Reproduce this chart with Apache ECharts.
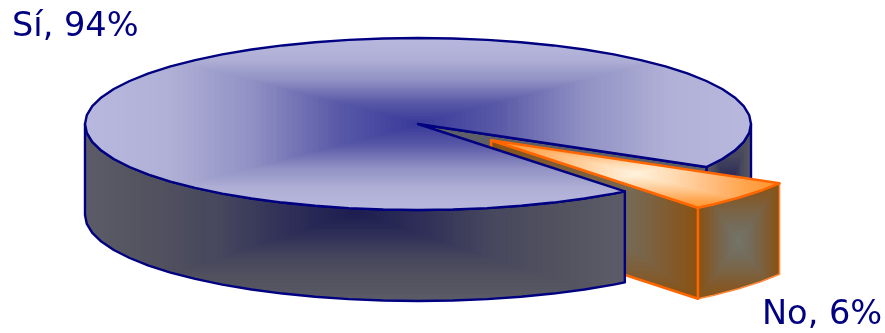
<!DOCTYPE html>
<html>
<head>
<meta charset="utf-8">
<style>html,body{margin:0;padding:0;background:#fff}#chart{width:885px;height:333px}</style>
<script src="https://cdn.jsdelivr.net/npm/echarts@6/dist/echarts.min.js"></script>
</head>
<body>
<div id="chart"></div>
<script>
// Survey answers, in percent
const categories = ['Sí', 'No'];
const shares = [94, 6];

// Disc projection
const CX = 418, CY = 124, RX = 333, RY = 86, DEPTH = 91;
const WEDGE_START = 30;            // where the "No" slice begins, degrees clockwise from east
const EXPLODE = 0.29;              // pull-out of the "No" slice, as a fraction of the radius
const BANDS = 64;
const FACET = 6;                   // rim is faceted every few degrees

const NAVY = '#000080', ORANGE = '#ff6600';
const RAMPS = {
  top:   ['#38389a', '#5a5aa8', '#9090c4', '#b0b0d6', '#b8b8de'],
  wall:  ['#1d1d50', '#2f2f58', '#46465e', '#52525f', '#5c5c68'],
  sliceTop:  ['#fff2de', '#ffdcb4', '#ffc084', '#ffa650', '#ff9228'],
  sliceWall: ['#747468', '#756c5c', '#7a6446', '#825a2c', '#8a5210']
};
const LABEL_POS = [[12, 10], [762, 298]];

const rad = d => d * Math.PI / 180;
const rim = (deg, ox, oy, drop) => [
  CX + ox + RX * Math.cos(rad(deg)),
  CY + oy + RY * Math.sin(rad(deg)) + drop
];
function arc(a0, a1, ox, oy, drop) {
  const angles = [a0];
  for (let a = Math.ceil(a0 / FACET + 1e-6) * FACET; a < a1; a += FACET) angles.push(a);
  angles.push(a1);
  return angles.map(a => rim(a, ox, oy, drop));
}

// A face filled with a rectangular-path gradient: nested bands shrinking towards
// the centre of its bounding box, clipped to the outline.
function face(points, ramp, layer, stroke, width) {
  const xs = points.map(p => p[0]), ys = points.map(p => p[1]);
  const x0 = Math.min(...xs), x1 = Math.max(...xs), y0 = Math.min(...ys), y1 = Math.max(...ys);
  const mx = (x0 + x1) / 2, my = (y0 + y1) / 2, hx = (x1 - x0) / 2, hy = (y1 - y0) / 2;
  const bands = [];
  for (let i = BANDS; i >= 1; i--) {
    const t = i / BANDS;
    bands.push({
      type: 'rect',
      z2: layer * 100 + (BANDS - i),
      shape: { x: mx - hx * t - 1, y: my - hy * t - 1, width: 2 * hx * t + 2, height: 2 * hy * t + 2 },
      style: { fill: echarts.color.lerp(t, ramp) }
    });
  }
  return [
    { type: 'group', clipPath: { type: 'polygon', shape: { points } }, children: bands },
    {
      type: 'polygon',
      z2: layer * 100 + 99,
      shape: { points },
      style: { fill: 'transparent', stroke, lineWidth: width, lineJoin: 'round' }
    }
  ];
}

function wallBetween(a0, a1, ox, oy, ramp, layer, stroke, width) {
  const upper = arc(a0, a1, ox, oy, 0), lower = arc(a0, a1, ox, oy, DEPTH).reverse();
  return face(upper.concat(lower), ramp, layer, stroke, width);
}

// Angular extent of each slice, running clockwise from the "No" wedge
const total = shares.reduce((a, b) => a + b, 0);
const sweepOf = v => v / total * 360;
const noStart = WEDGE_START, noEnd = noStart + sweepOf(shares[1]);
const siStart = noEnd, siEnd = siStart + sweepOf(shares[0]);

function drawYes() {
  const out = [];
  const endEdge = rim(siEnd, 0, 0, 0);
  // outer wall to the right of the gap, then the cut face seen through it
  out.push(...wallBetween(360, siEnd, 0, 0, RAMPS.wall, 1, NAVY, 2.4));
  out.push({
    type: 'polygon', z2: 200,
    shape: { points: [[CX, CY], endEdge, [endEdge[0], endEdge[1] + DEPTH], [CX, CY + DEPTH]] },
    style: { fill: '#5f5f68', stroke: NAVY, lineWidth: 2.4 }
  });
  // front wall and top surface sit over the pulled-out slice
  out.push(...wallBetween(siStart, 180, 0, 0, RAMPS.wall, 6, NAVY, 2.4));
  out.push(...face([[CX, CY]].concat(arc(siStart, siEnd, 0, 0, 0)), RAMPS.top, 7, NAVY, 2.4));
  return out;
}

function drawNo() {
  const out = [];
  const mid = (noStart + noEnd) / 2;
  const ox = RX * EXPLODE * Math.cos(rad(mid));
  const oy = RY * EXPLODE * Math.sin(rad(mid));
  const apex = [CX + ox, CY + oy];
  const lowerEdge = rim(noEnd, ox, oy, 0);
  out.push(...wallBetween(noStart, noEnd, ox, oy, RAMPS.sliceWall, 3, '#ff8a3c', 1.6));
  out.push(...face(
    [apex, lowerEdge, [lowerEdge[0], lowerEdge[1] + DEPTH], [apex[0], apex[1] + DEPTH]],
    RAMPS.sliceWall, 4, ORANGE, 2.6));
  out.push(...face([apex].concat(arc(noStart, noEnd, ox, oy, 0)), RAMPS.sliceTop, 5, ORANGE, 2.6));
  return out;
}

const chart = echarts.init(document.getElementById('chart'), null, { renderer: 'canvas' });
chart.setOption({
  animation: false,
  backgroundColor: '#ffffff',
  series: [{
    type: 'custom',
    silent: true,
    clip: false,
    coordinateSystem: 'none',
    data: categories.map((c, i) => [i, shares[i]]),
    renderItem(params) {
      const i = params.dataIndex;
      const children = i === 0 ? drawYes() : drawNo();
      children.push({
        type: 'text',
        z2: 1000,
        style: {
          text: categories[i] + ', ' + shares[i] + '%',
          x: LABEL_POS[i][0], y: LABEL_POS[i][1],
          font: '33.6px "DejaVu Sans"',
          fill: NAVY
        }
      });
      return { type: 'group', children };
    }
  }]
});
</script>
</body>
</html>
